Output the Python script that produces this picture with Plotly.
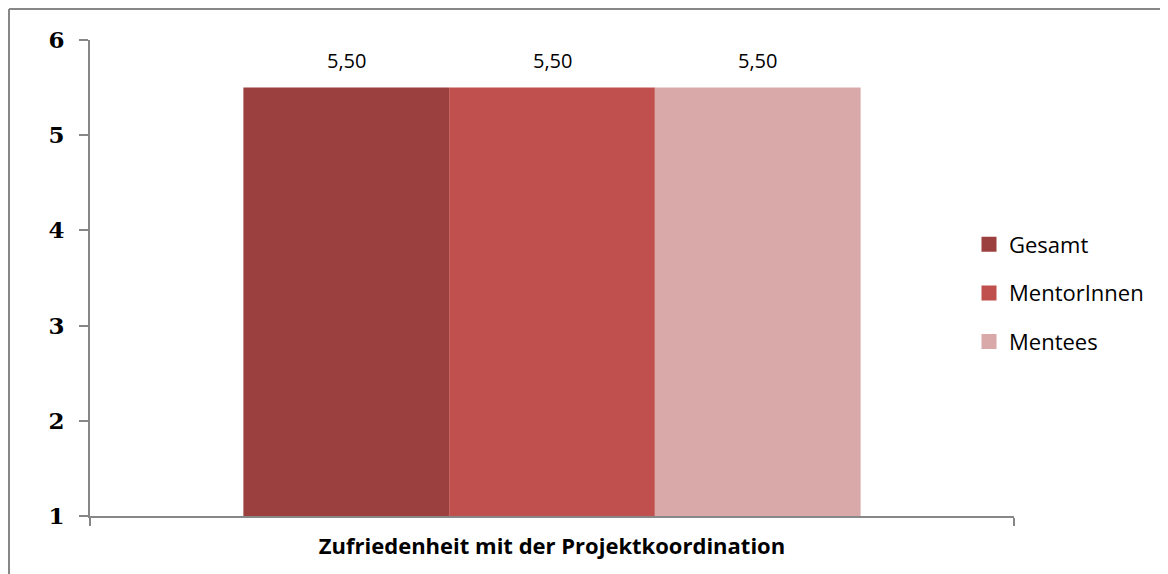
import plotly.graph_objects as go

category = ["Zufriedenheit mit der Projektkoordination"]
series_names = ["Gesamt", "MentorInnen", "Mentees"]
series_values = {
    "Gesamt": [5.50],
    "MentorInnen": [5.50],
    "Mentees": [5.50],
}
series_colors = {
    "Gesamt": "#9C3F3F",
    "MentorInnen": "#C0504D",
    "Mentees": "#D9A9A9",
}
y_ticks = [1, 2, 3, 4, 5, 6]

BARGAP = 0.332
axis_gray = "#878787"
L, R, T, B = 82, 162, 32, 66
PW, PH = 1168 - L - R, 574 - T - B

fig = go.Figure()
n = len(series_names)
annotations = []
for i, name in enumerate(series_names):
    fig.add_trace(go.Bar(
        x=category,
        y=series_values[name],
        name=name,
        showlegend=False,
        marker=dict(color=series_colors[name], line=dict(width=0)),
    ))
    # legend entry with a larger square swatch
    fig.add_trace(go.Scatter(
        x=[None], y=[None], mode="markers", name=name, legendgroup=name,
        marker=dict(symbol="square", size=15, color=series_colors[name]),
        showlegend=True,
    ))
    # value labels above each bar (positioned in category units)
    for ci, v in enumerate(series_values[name]):
        annotations.append(dict(
            xref="x", yref="y",
            x=ci + (i - (n - 1) / 2) * (1 - BARGAP) / n, y=v,
            text=f"{v:.2f}".replace(".", ","),
            showarrow=False, yanchor="middle", yshift=27,
            font=dict(family="Open Sans", size=20, color="#000000"),
        ))

fig.update_layout(
    width=1168, height=574,
    paper_bgcolor="white", plot_bgcolor="white",
    barmode="group", bargap=BARGAP, bargroupgap=0,
    margin=dict(l=L, r=R, t=T, b=B, autoexpand=False),
    showlegend=True,
    legend=dict(
        x=0.9513, xanchor="left", y=0.4685, yanchor="middle",
        font=dict(family="Open Sans", size=22, color="#000000"),
        tracegroupgap=17, bgcolor="rgba(0,0,0,0)",
    ),
    xaxis=dict(
        type="category",
        showline=True, linecolor=axis_gray, linewidth=2,
        ticks="outside", tickson="boundaries", ticklen=8, tickcolor=axis_gray, tickwidth=2,
        tickfont=dict(family="Open Sans", size=22, color="#000000", weight="bold"),
        ticklabelstandoff=10,
        showgrid=False, zeroline=False,
    ),
    yaxis=dict(
        range=[1, 6], tickvals=y_ticks, ticktext=[str(v) for v in y_ticks],
        showline=True, linecolor=axis_gray, linewidth=2,
        ticks="outside", ticklen=9, tickcolor=axis_gray, tickwidth=2,
        tickfont=dict(family="DejaVu Serif", size=23, color="#000000", weight="bold"),
        ticklabelstandoff=10,
        showgrid=False, zeroline=False,
    ),
    annotations=annotations,
    shapes=[
        dict(type="line", xref="paper", yref="paper",
             x0=(1 - L) / PW, x1=1.3, y0=(PH + T - 1) / PH, y1=(PH + T - 1) / PH,
             line=dict(color=axis_gray, width=2)),
        dict(type="line", xref="paper", yref="paper",
             x0=(1 - L) / PW, x1=(1 - L) / PW, y0=-0.3, y1=(PH + T - 1) / PH,
             line=dict(color=axis_gray, width=2)),
    ],
)

fig.write_html("out.html")
